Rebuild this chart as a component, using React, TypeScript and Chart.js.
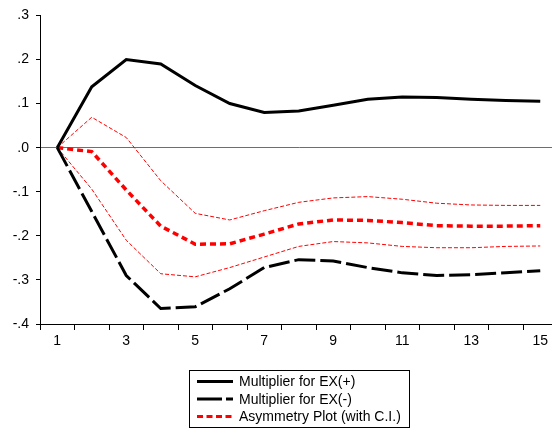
import React, { useEffect, useRef } from "react";
import { Chart, registerables } from "chart.js";

Chart.register(...registerables);

const labels = ["1", "2", "3", "4", "5", "6", "7", "8", "9", "10", "11", "12", "13", "14", "15"];
const exPos = [0, 0.138, 0.2, 0.19, 0.141, 0.1, 0.08, 0.083, 0.096, 0.11, 0.115, 0.114, 0.11, 0.107, 0.105];
const exNeg = [0, -0.145, -0.29, -0.365, -0.361, -0.32, -0.272, -0.254, -0.257, -0.272, -0.284, -0.29, -0.288, -0.284, -0.279];
const asym = [0, -0.009, -0.096, -0.178, -0.219, -0.218, -0.196, -0.173, -0.164, -0.165, -0.17, -0.177, -0.178, -0.178, -0.177];
const ciUpper = [0, 0.069, 0.023, -0.075, -0.149, -0.164, -0.143, -0.124, -0.114, -0.111, -0.117, -0.126, -0.13, -0.131, -0.131];
const ciLower = [0, -0.094, -0.21, -0.286, -0.293, -0.272, -0.248, -0.224, -0.213, -0.216, -0.224, -0.227, -0.227, -0.224, -0.223];
const legendNames = ["Multiplier for EX(+)", "Multiplier for EX(-)", "Asymmetry Plot (with C.I.)"];

const FONT = "'Liberation Sans', Arial, sans-serif";

const boxLegend = {
  id: "boxLegend",
  afterDraw(chart: any) {
    const ctx = chart.ctx;
    const ds = chart.data.datasets;
    const left = 189.5, top = 370.5, w = 220, h = 57;
    ctx.save();
    ctx.strokeStyle = "#000";
    ctx.lineWidth = 1;
    ctx.setLineDash([]);
    ctx.strokeRect(left, top, w, h);
    const rows = [381.5, 399, 416.5];
    const samples = [
      { i: 0, dash: [] as number[] },
      { i: 1, dash: [25, 4] },
      { i: 2, dash: [6, 3.5] },
    ];
    samples.forEach((s, k) => {
      const d = ds[s.i];
      ctx.strokeStyle = d.borderColor;
      ctx.lineWidth = 3;
      ctx.lineCap = "butt";
      ctx.setLineDash(s.dash);
      ctx.beginPath();
      ctx.moveTo(197, rows[k]);
      ctx.lineTo(233, rows[k]);
      ctx.stroke();
      ctx.setLineDash([]);
      ctx.fillStyle = "#000";
      ctx.font = "14px " + FONT;
      ctx.textBaseline = "middle";
      ctx.textAlign = "left";
      ctx.fillText(legendNames[k], 239, rows[k] + 1);
    });
    ctx.restore();
  },
};

export default function App() {
  const ref = useRef<HTMLCanvasElement>(null);
  useEffect(() => {
    if (!ref.current) return;
    Chart.defaults.font.family = FONT;
    const chart = new Chart(ref.current, {
      type: "line",
      data: {
        labels,
        datasets: [
          { label: legendNames[0], data: exPos, borderColor: "#000", borderWidth: 3, pointRadius: 0, tension: 0, fill: false },
          { label: legendNames[1], data: exNeg, borderColor: "#000", borderWidth: 3, borderDash: [21, 5], pointRadius: 0, tension: 0, fill: false },
          { label: legendNames[2], data: asym, borderColor: "#ff0000", borderWidth: 3.5, borderDash: [6, 4], borderCapStyle: "butt", pointRadius: 0, tension: 0, fill: false },
          { label: "Upper C.I.", data: ciUpper, borderColor: "#ff0000", borderWidth: 1, borderDash: [4, 2], pointRadius: 0, tension: 0, fill: false },
          { label: "Lower C.I.", data: ciLower, borderColor: "#ff0000", borderWidth: 1, borderDash: [4, 2], pointRadius: 0, tension: 0, fill: false },
        ],
      },
      options: {
        responsive: false,
        animation: false,
        devicePixelRatio: 1,
        layout: { padding: { top: 14, left: 0, right: 2.5, bottom: 0 } },
        plugins: { legend: { display: false }, tooltip: { enabled: false } },
        scales: {
          x: {
            type: "category",
            offset: true,
            grid: { display: true, drawOnChartArea: false, drawTicks: true, tickLength: 6, offset: true, color: "#000", lineWidth: 1 },
            border: { display: true, color: "#000", width: 1 },
            ticks: {
              autoSkip: false,
              maxRotation: 0,
              padding: 3,
              color: "#000",
              font: { size: 14, family: FONT },
              callback: (_v: any, i: number) => (i % 2 === 0 ? labels[i] : ""),
            },
            afterFit: (s: any) => { s.height = 106; },
          },
          y: {
            min: -0.4,
            max: 0.3,
            grid: {
              drawOnChartArea: true,
              drawTicks: true,
              tickLength: 4,
              tickColor: "#000",
              lineWidth: 1,
              color: (c: any) => (c.tick && Math.abs(c.tick.value) < 1e-9 ? "#6e6e6e" : "rgba(0,0,0,0)"),
            },
            border: { display: true, color: "#000", width: 1 },
            ticks: {
              stepSize: 0.1,
              padding: 7,
              color: "#000",
              font: { size: 14, family: FONT },
              callback: (v: any) => {
                const r = Math.round(Number(v) * 10) / 10;
                if (Math.abs(r) < 1e-9) return ".0";
                return r.toFixed(1).replace("0.", ".");
              },
            },
            afterFit: (s: any) => { s.width = 40; },
          },
        },
      },
      plugins: [boxLegend],
    });
    return () => chart.destroy();
  }, []);
  return (
    <div style={{ position: "fixed", left: 0, top: 0, width: 560, height: 430, background: "#fff" }}>
      <canvas ref={ref} width={560} height={430} style={{ display: "block" }} />
    </div>
  );
}
